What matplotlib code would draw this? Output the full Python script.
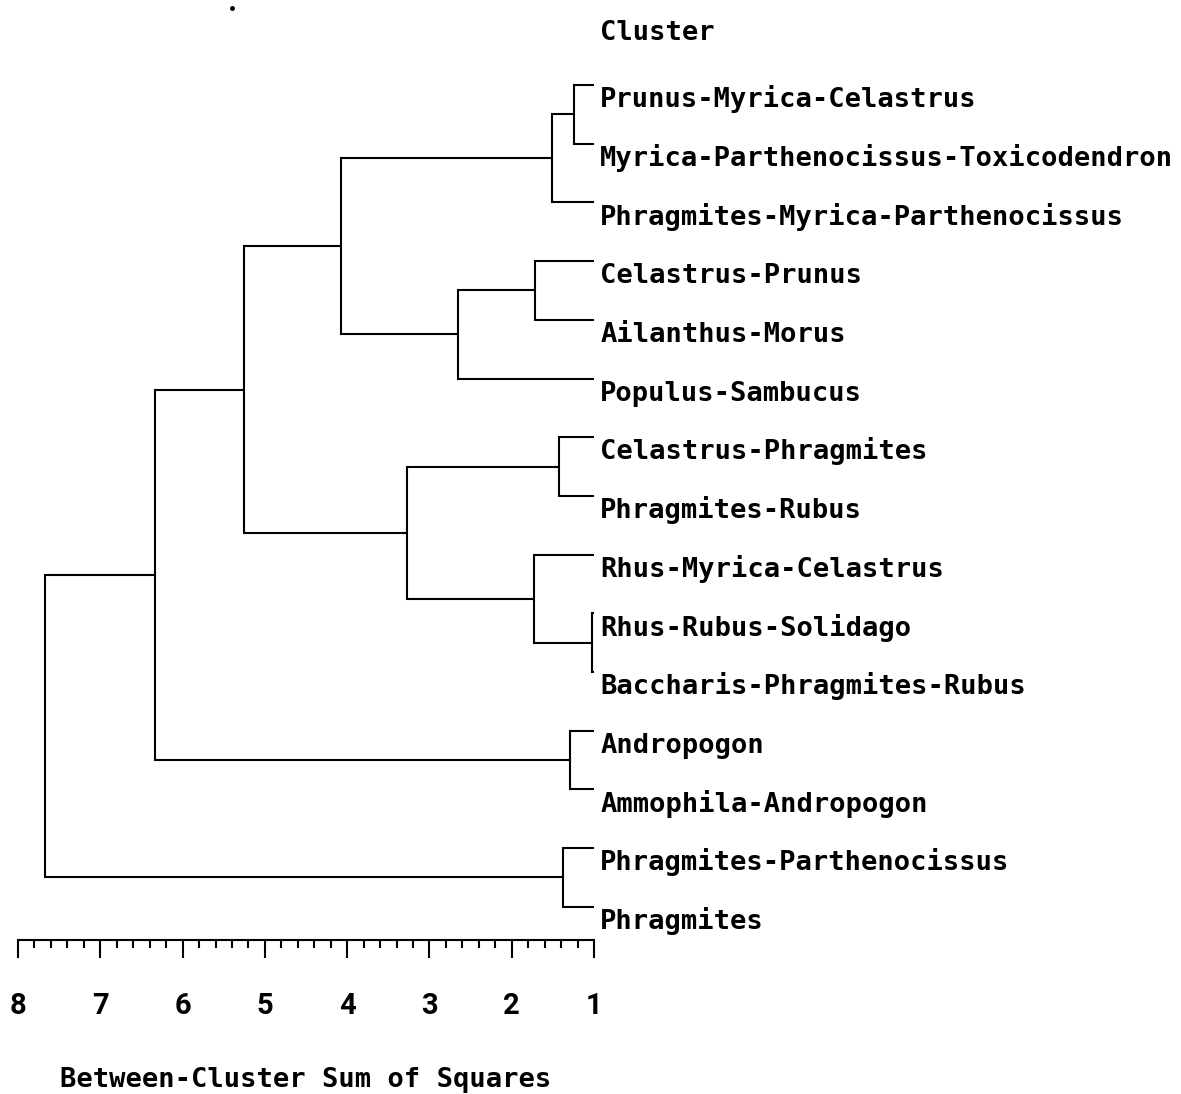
import numpy as np
import matplotlib
matplotlib.use("Agg")
import matplotlib.pyplot as plt
from matplotlib.ticker import FixedLocator

# clusters, listed top to bottom in dendrogram order
LEAVES = [
    "Prunus-Myrica-Celastrus",
    "Myrica-Parthenocissus-Toxicodendron",
    "Phragmites-Myrica-Parthenocissus",
    "Celastrus-Prunus",
    "Ailanthus-Morus",
    "Populus-Sambucus",
    "Celastrus-Phragmites",
    "Phragmites-Rubus",
    "Rhus-Myrica-Celastrus",
    "Rhus-Rubus-Solidago",
    "Baccharis-Phragmites-Rubus",
    "Andropogon",
    "Ammophila-Andropogon",
    "Phragmites-Parthenocissus",
    "Phragmites",
]

# joins (left id, right id, between-cluster SS); new clusters get ids 15, 16, ...
MERGE_LEFT = [9, 0, 11, 13, 6, 16, 3, 8, 21, 19, 20, 25, 26, 27]
MERGE_RIGHT = [10, 1, 12, 14, 7, 2, 4, 15, 5, 22, 23, 24, 17, 18]
MERGE_HEIGHT = [1.02, 1.24, 1.29, 1.38, 1.43, 1.51, 1.72, 1.73,
                2.65, 3.27, 4.08, 5.25, 6.34, 7.67]
LEAF_HEIGHT = 1.0

MAJOR_TICKS = [8, 7, 6, 5, 4, 3, 2, 1]
MINOR_STEP = 0.2

MONO = "DejaVu Sans Mono"
LABEL_SIZE = 19.5
LW = 1.5

fig = plt.figure(figsize=(11.81, 10.94), dpi=100)
ax = fig.add_axes([0, 0, 1, 1])
ax.set_xlim(8.219, -6.133)
ax.set_ylim(17.189, -1.448)

# walk the merge table and draw each join as a bracket
pos = {i: (LEAF_HEIGHT, float(i)) for i in range(len(LEAVES))}
for k, (a, b, h) in enumerate(zip(MERGE_LEFT, MERGE_RIGHT, MERGE_HEIGHT)):
    xa, ya = pos[a]
    xb, yb = pos[b]
    ax.plot([xa, h, h, xb], [ya, ya, yb, yb], color="black", lw=LW,
            solid_joinstyle="miter", solid_capstyle="butt")
    pos[len(LEAVES) + k] = (h, (ya + yb) / 2)

for i, name in enumerate(LEAVES):
    ax.annotate(name, (LEAF_HEIGHT, i), xytext=(4.5, -16),
                textcoords="offset points", ha="left", va="baseline",
                fontfamily=MONO, fontsize=LABEL_SIZE, fontweight="bold")

ax.text(LEAF_HEIGHT, -0.77, "Cluster", ha="left", va="baseline",
        fontfamily=MONO, fontsize=LABEL_SIZE, fontweight="bold",
        transform=ax.transData + matplotlib.transforms.ScaledTranslation(
            6 / 100, 0, fig.dpi_scale_trans))
ax.plot([5.40], [-1.31], marker="o", ms=2.5, color="black")

# ruler along the bottom: spine sits just under the last leaf
for side in ("top", "left", "right"):
    ax.spines[side].set_visible(False)
ax.spines["bottom"].set_position(("data", 14.57))
ax.spines["bottom"].set_bounds(1, 8)
ax.spines["bottom"].set_linewidth(LW)
ax.set_yticks([])
ax.set_xticks(MAJOR_TICKS, labels=[str(t) for t in MAJOR_TICKS])
ax.xaxis.set_minor_locator(FixedLocator(np.arange(1, 8 + 1e-9, MINOR_STEP)))
ax.tick_params(axis="x", which="major", direction="out", length=13, width=LW,
               pad=24, labelsize=21)
ax.tick_params(axis="x", which="minor", direction="out", length=6, width=LW)
for lbl in ax.get_xticklabels():
    lbl.set_fontfamily(["Roboto", "Liberation Sans"])
    lbl.set_fontweight("bold")

ax.set_xlabel("Between-Cluster Sum of Squares", fontfamily=MONO,
              fontsize=LABEL_SIZE, fontweight="bold", va="baseline")
ax.xaxis.set_label_coords(306 / 1181, 1 - 1087 / 1094)

fig.savefig("out.png", dpi=100)
